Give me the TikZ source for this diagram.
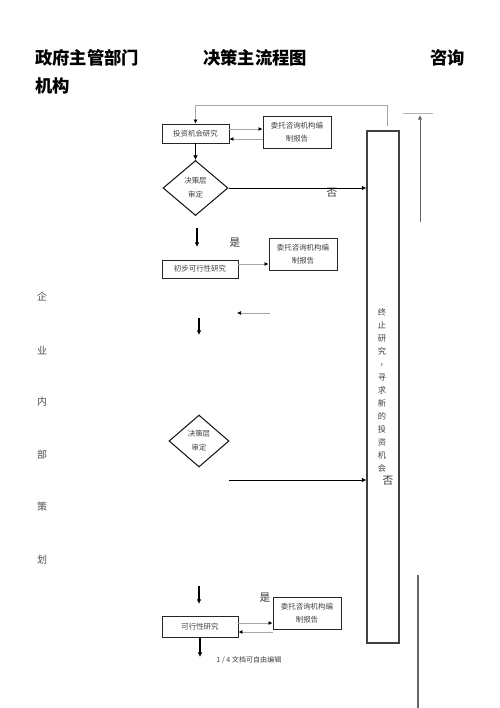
\documentclass[tikz,border=0pt]{standalone}
\usepackage{fontspec}
\newfontfamily\cjk{Noto Sans CJK SC}
\usetikzlibrary{shapes.geometric,arrows.meta}
\begin{document}
\begin{tikzpicture}[x=0.75pt,y=-0.75pt,
  box/.style={draw=black!85,line width=0.7pt,rectangle,inner sep=0pt,align=center,
    font=\cjk\fontsize{5.6}{9.75}\selectfont,text=black!75},
  dia/.style={draw=black!90,line width=0.8pt,diamond,inner sep=0pt,align=center,
    font=\cjk\fontsize{5.6}{10.5}\selectfont,text=black!75},
  garrow/.style={draw=black!35,line width=0.5pt,-{Latex[length=3pt,width=3pt,black]}},
  barrow/.style={draw=black,line width=0.65pt,-{Latex[length=3.5pt,width=3.5pt]}},
  darrow/.style={draw=black,line width=1.1pt,-{Latex[length=3.5pt,width=3.5pt]}},
  ttl/.style={font=\cjk\bfseries\fontsize{13}{15}\selectfont,anchor=west,inner sep=0pt},
  lab/.style={font=\cjk\fontsize{8}{9}\selectfont,text=black!80,inner sep=0pt},
  side/.style={font=\cjk\fontsize{7.5}{9}\selectfont,text=black!70,inner sep=0pt}]
\useasboundingbox (0,0) rectangle (500,708);
% titles
\node[ttl] (t1) at (35,58) {政府主管部门};
\node[ttl] (t2) at (203,58) {决策主流程图};
\node[ttl] (t3) at (430,58) {咨询};
\node[ttl] (t4) at (35,86) {机构};
% left column
\node[side] (s1) at (42,297) {企};
\node[side] (s2) at (42,350) {业};
\node[side] (s3) at (42,402) {内};
\node[side] (s4) at (42,455) {部};
\node[side] (s5) at (42,507) {策};
\node[side] (s6) at (42,560) {划};
% boxes
\node[box,minimum width=50.25pt,minimum height=14.25pt] (b1) at (195.5,133.5) {投资机会研究};
\node[box,minimum width=51pt,minimum height=24pt] (c1) at (297,132) {委托咨询机构编\\制报告};
\node[dia,minimum width=48.75pt,minimum height=41.25pt] (d1) at (195.5,188) {决策层\\审定};
\node[box,minimum width=57pt,minimum height=13.5pt] (b2) at (200,269) {初步可行性研究};
\node[box,minimum width=51pt,minimum height=24pt] (c2) at (303,254) {委托咨询机构编\\制报告};
\node[dia,minimum width=45pt,minimum height=39pt] (d2) at (199,441) {决策层\\审定};
\node[box,minimum width=57pt,minimum height=15.75pt] (b3) at (200,626.5) {可行性研究};
\node[box,minimum width=51pt,minimum height=24pt] (c3) at (307,613) {委托咨询机构编\\制报告};
\node[draw=black!75,line width=0.8pt,rectangle,minimum width=24pt,minimum height=384pt,inner sep=0pt] (T) at (383,387) {};
\node[font=\cjk\fontsize{6.2}{9.75}\selectfont,text=black!75,align=center,inner sep=0pt] (Tt) at (382,390)
  {终\\止\\研\\究\\\hspace*{0.5em}\raisebox{0.25em}{，}\\寻\\求\\新\\的\\投\\资\\机\\会};
% labels
\node[lab] (n1) at (332,193) {否};
\node[lab] (y1) at (235,243) {是};
\node[lab] (n2) at (388,481) {否};
\node[lab] (y2) at (265,598) {是};
\node[font=\cjk\fontsize{5.3}{6}\selectfont,text=black!75,inner sep=0pt] (ft) at (249,660) {1 / 4 文档可自由编辑};
% coordinates
\coordinate (tl) at (387,126);
\coordinate (tc) at (195.5,105);
\coordinate (ya) at (0,129);
\coordinate (yb) at (0,139);
\coordinate (yc) at (0,264);
\coordinate (yd) at (0,623);
\coordinate (ye) at (0,632);
\coordinate (a1s) at (197,228);
\coordinate (a1e) at (197,247);
\coordinate (a2s) at (270,313);
\coordinate (a2e) at (237,313);
\coordinate (a3s) at (199,318);
\coordinate (a3e) at (199,335);
\coordinate (a4s) at (229,480);
\coordinate (a5e) at (200,657);
\coordinate (a6s) at (420,222);
\coordinate (a6e) at (420,115);
\coordinate (h1) at (403,113);
\coordinate (h2) at (433,113);
\coordinate (v1) at (418,575);
\coordinate (v2) at (418,708);
\coordinate (a0s) at (199,586);
\coordinate (a0e) at (199,604);
% connectors
\draw[garrow] (tl) -- (tl|-tc) -- (tc) -- (b1.north);
\draw[garrow] (b1.east|-ya) -- (c1.west|-ya);
\draw[garrow] (c1.west|-yb) -- (b1.east|-yb);
\draw[barrow,line width=0.55pt] (b1.south) -- (d1.north);
\draw[barrow] (d1.east) -- (d1.east-|T.west);
\draw[darrow] (a1s) -- (a1e);
\draw[garrow] (b2.east|-yc) -- (c2.west|-yc);
\draw[garrow] (a2s) -- (a2e);
\draw[darrow] (a3s) -- (a3e);
\draw[barrow] (a4s) -- (a4s-|T.west);
\draw[darrow] (a0s) -- (a0e);
\draw[garrow] (b3.east|-yd) -- (c3.west|-yd);
\draw[garrow] (c3.west|-ye) -- (b3.east|-ye);
\draw[darrow] (b3.south) -- (a5e);
\draw[barrow,draw=black!60,line width=0.7pt] (a6s) -- (a6e);
\draw[draw=black!30,line width=0.5pt] (h1) -- (h2);
\draw[draw=black!60,line width=0.8pt] (v1) -- (v2);
\end{tikzpicture}
\end{document}
